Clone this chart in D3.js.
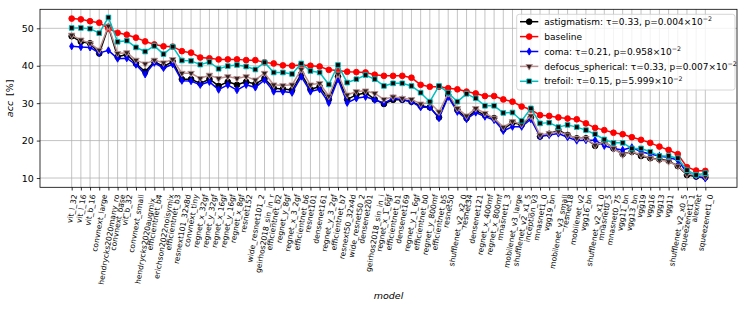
<!DOCTYPE html>
<html>
<head>
<meta charset="utf-8">
<script src="https://cdn.jsdelivr.net/npm/d3@7"></script>
<style>
  body { margin: 0; background: #fff; }
  text { font-family: "DejaVu Sans", sans-serif; }
</style>
</head>
<body>
<svg id="chart" width="747" height="312"></svg>
<script>
const models = [
  'vit_l_32', 'vit_l_16', 'vit_b_16', 'convnext_large', 'hendrycks2020many_ro',
  'convnext_base', 'vit_b_32', 'convnext_small', 'hendrycks2020augmix_', 'efficientnet_b4',
  'erichson2022noisymix', 'efficientnet_b3', 'resnext101_32x8d', 'convnext_tiny', 'regnet_x_32gf',
  'regnet_y_32gf', 'regnet_x_16gf', 'regnet_y_16gf', 'regnet_x_8gf', 'resnet152',
  'wide_resnet101_2', 'geirhos2018_sin_in_r', 'efficientnet_b2', 'regnet_y_8gf', 'regnet_x_3_2gf',
  'efficientnet_b6', 'resnet101', 'densenet161', 'regnet_y_3_2gf', 'efficientnet_b7',
  'resnext50_32x4d', 'wide_resnet50_2', 'densenet201', 'geirhos2018_sin_in_i', 'regnet_x_1_6gf',
  'efficientnet_b1', 'densenet169', 'regnet_y_1_6gf', 'efficientnet_b0', 'regnet_y_800mf',
  'efficientnet_b5', 'resnet50', 'shufflenet_v2_x2_0', 'resnet34', 'densenet121',
  'regnet_x_400mf', 'regnet_x_800mf', 'mnasnet1_3', 'mobilenet_v3_large', 'shufflenet_v2_x1_5',
  'inception_v3', 'mnasnet1_0', 'vgg19_bn', 'mobilenet_v3_small', 'resnet18',
  'mobilenet_v2', 'vgg16_bn', 'shufflenet_v2_x1_0', 'mnasnet0_5', 'mnasnet0_75',
  'vgg11_bn', 'vgg13_bn', 'vgg19', 'vgg16', 'vgg13',
  'vgg11', 'shufflenet_v2_x0_5', 'squeezenet1_1', 'alexnet', 'squeezenet1_0'
];

const astigmatism = [
  47.9, 46.4, 46.0, 43.3, 50.4, 42.4, 43.0, 40.6, 38.4, 41.1,
  39.8, 41.1, 36.4, 36.4, 35.3, 36.4, 34.6, 35.7, 34.9, 35.7,
  35.1, 36.6, 34.0, 33.8, 33.5, 37.8, 33.7, 34.4, 31.0, 37.1,
  31.0, 32.2, 32.8, 31.0, 29.8, 30.9, 30.9, 30.4, 29.3, 28.9,
  26.2, 32.2, 28.2, 26.0, 28.0, 26.8, 26.0, 23.0, 24.8, 24.2,
  26.2, 21.1, 21.8, 22.8, 21.5, 20.6, 20.6, 18.6, 19.7, 17.9,
  16.4, 17.0, 15.9, 15.3, 15.0, 14.6, 13.2, 10.8, 10.4, 10.2
];
const baseline = [
  52.6, 52.4, 51.9, 51.5, 49.9, 48.8, 48.3, 47.5, 46.5, 45.7,
  45.2, 45.1, 43.9, 43.5, 42.2, 42.0, 41.7, 41.7, 41.7, 41.5,
  41.5, 40.9, 40.6, 40.1, 40.0, 40.2, 40.0, 39.8, 38.9, 38.7,
  38.4, 38.3, 38.2, 37.6, 37.3, 37.3, 37.3, 36.8, 34.9, 34.4,
  34.4, 34.0, 33.7, 33.1, 32.6, 31.9, 31.9, 31.0, 30.4, 29.1,
  28.3, 26.8, 26.6, 26.2, 25.9, 25.7, 24.6, 23.4, 22.8, 22.1,
  21.7, 20.9, 20.2, 19.4, 18.4, 17.5, 16.4, 12.9, 12.0, 11.9
];
const coma = [
  45.2, 45.0, 44.9, 43.4, 44.1, 41.9, 42.0, 40.3, 37.7, 40.8,
  39.4, 40.4, 36.0, 35.9, 34.9, 35.7, 33.6, 34.9, 33.5, 34.9,
  34.2, 36.2, 33.1, 33.1, 32.8, 37.1, 33.1, 33.7, 30.1, 36.4,
  30.1, 31.3, 31.7, 30.9, 30.0, 31.3, 31.0, 30.4, 28.9, 28.9,
  26.0, 31.7, 27.7, 25.7, 27.5, 26.4, 25.5, 22.6, 23.7, 23.7,
  25.7, 21.1, 21.5, 21.9, 20.9, 20.0, 20.1, 20.1, 18.6, 17.9,
  17.5, 18.2, 17.0, 16.4, 15.9, 15.5, 14.8, 11.4, 10.5, 9.9
];
const defocusSpherical = [
  48.2, 46.9, 46.0, 44.2, 50.6, 43.3, 43.5, 41.5, 40.5, 41.5,
  40.8, 41.7, 38.0, 38.0, 36.6, 37.5, 36.6, 37.1, 36.6, 37.1,
  36.2, 38.0, 34.9, 34.7, 34.9, 39.0, 34.9, 35.3, 31.9, 37.8,
  32.2, 33.1, 33.3, 32.6, 31.0, 31.7, 31.3, 31.0, 29.8, 30.1,
  27.7, 32.6, 28.6, 26.6, 28.6, 27.3, 26.0, 23.6, 25.1, 24.4,
  26.6, 21.5, 21.9, 22.4, 21.5, 20.6, 20.6, 18.8, 19.7, 17.9,
  16.2, 17.0, 16.2, 15.3, 14.8, 14.4, 13.2, 11.1, 10.8, 10.4
];
const trefoil = [
  50.1, 50.1, 49.9, 48.7, 52.9, 46.4, 46.7, 44.9, 43.8, 45.3,
  43.1, 45.1, 41.4, 41.3, 40.3, 41.0, 39.2, 39.9, 40.2, 39.8,
  39.0, 40.9, 38.2, 38.2, 37.8, 40.6, 38.6, 38.2, 35.0, 40.2,
  35.5, 36.4, 37.5, 36.4, 34.6, 35.3, 35.3, 34.6, 32.8, 30.4,
  34.6, 32.8, 30.4, 32.5, 31.3, 29.3, 29.3, 27.4, 27.5, 25.3,
  28.6, 24.6, 24.8, 23.6, 24.2, 23.6, 22.8, 21.7, 20.3, 19.4,
  19.4, 17.9, 17.9, 17.0, 15.9, 15.9, 15.3, 12.1, 10.8, 11.3
];

const legendNames = ['astigmatism', 'baseline', 'coma', 'defocus_spherical', 'trefoil'];
const legendTau = ['0.33', null, '0.21', '0.33', '0.15'];
const legendP = ['0.004', null, '0.958', '0.007', '5.999'];
const yTicks = [10, 20, 30, 40, 50];

const width = 747;
const height = 312;
const margin = { left: 40, right: 10, top: 9.3, bottom: 124.7 };
const plotRight = width - margin.right;
const plotBottom = height - margin.bottom;

const series = [
  { values: astigmatism, color: '#000000', fill: '#000000', symbol: d3.symbolCircle, size: 26, rotate: 0 },
  { values: baseline, color: '#ff0000', fill: '#ff0000', symbol: d3.symbolCircle, size: 26, rotate: 0 },
  { values: coma, color: '#0000ff', fill: '#0000ff', symbol: d3.symbolDiamond, size: 15, rotate: 0 },
  { values: defocusSpherical, color: '#bc8f8f', fill: '#2b1f1f', symbol: d3.symbolTriangle, size: 18, rotate: 180 },
  { values: trefoil, color: '#00bfbf', fill: '#000000', symbol: d3.symbolSquare, size: 22, rotate: 0 },
];

const svg = d3.select('#chart');
svg.append('rect').attr('width', width).attr('height', height).attr('fill', '#fff');

const x = d3.scalePoint().domain(models).range([margin.left, plotRight]).padding(3.45);
const y = d3.scaleLinear().domain([7.52, 55.08]).range([plotBottom, margin.top]);

// grid
const grid = svg.append('g').attr('stroke', '#b0b0b0').attr('stroke-width', 0.75);
grid.selectAll('line.v')
  .data(models)
  .join('line')
  .attr('class', 'v')
  .attr('x1', (d) => x(d)).attr('x2', (d) => x(d))
  .attr('y1', margin.top).attr('y2', plotBottom);
grid.selectAll('line.h')
  .data(yTicks)
  .join('line')
  .attr('class', 'h')
  .attr('x1', margin.left).attr('x2', plotRight)
  .attr('y1', (d) => y(d)).attr('y2', (d) => y(d));

// x axis, labels turned 80 degrees and centred under the tick like matplotlib
const cos80 = Math.cos((80 * Math.PI) / 180);
const xAxis = svg.append('g')
  .attr('transform', `translate(0,${plotBottom})`)
  .call(d3.axisBottom(x).tickSize(3.2).tickSizeOuter(0));
xAxis.select('.domain').remove();
xAxis.selectAll('line').attr('stroke', '#000').attr('stroke-width', 0.8);
xAxis.selectAll('text')
  .attr('font-size', 7.6)
  .attr('fill', '#000')
  .attr('y', null)
  .attr('dy', '0.32em')
  .attr('text-anchor', 'end')
  .attr('transform', function () {
    const len = this.getComputedTextLength();
    return `translate(${(len * cos80) / 2},7.2) rotate(-80)`;
  });

// y axis
const yAxis = svg.append('g')
  .attr('transform', `translate(${margin.left},0)`)
  .call(d3.axisLeft(y).tickValues(yTicks).tickSize(3.2).tickPadding(3));
yAxis.select('.domain').remove();
yAxis.selectAll('line').attr('stroke', '#000').attr('stroke-width', 0.8);
yAxis.selectAll('text').attr('font-size', 9.5).attr('fill', '#000');

// series
const line = d3.line().x((d, i) => x(models[i])).y((d) => y(d));
series.forEach((s) => {
  const g = svg.append('g');
  g.append('path')
    .datum(s.values)
    .attr('fill', 'none')
    .attr('stroke', s.color)
    .attr('stroke-width', 1.5)
    .attr('stroke-linejoin', 'round')
    .attr('d', line);
  g.selectAll('path.m')
    .data(s.values)
    .join('path')
    .attr('class', 'm')
    .attr('d', d3.symbol(s.symbol, s.size))
    .attr('transform', (d, i) => `translate(${x(models[i])},${y(d)}) rotate(${s.rotate})`)
    .attr('fill', s.fill)
    .attr('stroke', s.color)
    .attr('stroke-width', 0.9);
});

// frame
svg.append('rect')
  .attr('x', margin.left).attr('y', margin.top)
  .attr('width', plotRight - margin.left).attr('height', plotBottom - margin.top)
  .attr('fill', 'none').attr('stroke', '#000').attr('stroke-width', 0.8);

// legend
const legend = svg.append('g').attr('transform', 'translate(516.7,14.3)');
legend.append('rect')
  .attr('width', 218.3).attr('height', 75.7).attr('rx', 2.5)
  .attr('fill', '#fff').attr('fill-opacity', 0.8)
  .attr('stroke', '#cccccc').attr('stroke-width', 0.8);
series.forEach((s, k) => {
  const row = legend.append('g').attr('transform', `translate(0,${7.4 + 14.9 * k})`);
  row.append('line').attr('x1', 3.3).attr('x2', 21.6).attr('stroke', s.color).attr('stroke-width', 1.5);
  row.append('path')
    .attr('d', d3.symbol(s.symbol, s.size))
    .attr('transform', `translate(12.5,0) rotate(${s.rotate})`)
    .attr('fill', s.fill).attr('stroke', s.color).attr('stroke-width', 0.9);
  const t = row.append('text').attr('x', 27.6).attr('dy', '0.35em').attr('font-size', 9).attr('fill', '#000');
  if (legendTau[k] === null) {
    t.text(legendNames[k]);
  } else {
    t.append('tspan').text(`${legendNames[k]}: \u03c4=${legendTau[k]}, p=${legendP[k]}\u00d710`);
    t.append('tspan').attr('dy', -3.6).attr('font-size', 6.3).text('\u22122');
  }
});

// axis labels
svg.append('text')
  .attr('x', (margin.left + plotRight) / 2).attr('y', 299)
  .attr('text-anchor', 'middle').attr('font-size', 9.5).attr('font-style', 'italic')
  .text('model');
const yl = svg.append('text')
  .attr('transform', `translate(13,${(margin.top + plotBottom) / 2}) rotate(-90)`)
  .attr('text-anchor', 'middle').attr('font-size', 9.5);
yl.append('tspan').attr('font-style', 'italic').text('acc');
yl.append('tspan').attr('dx', 5).text('[%]');
</script>
</body>
</html>
